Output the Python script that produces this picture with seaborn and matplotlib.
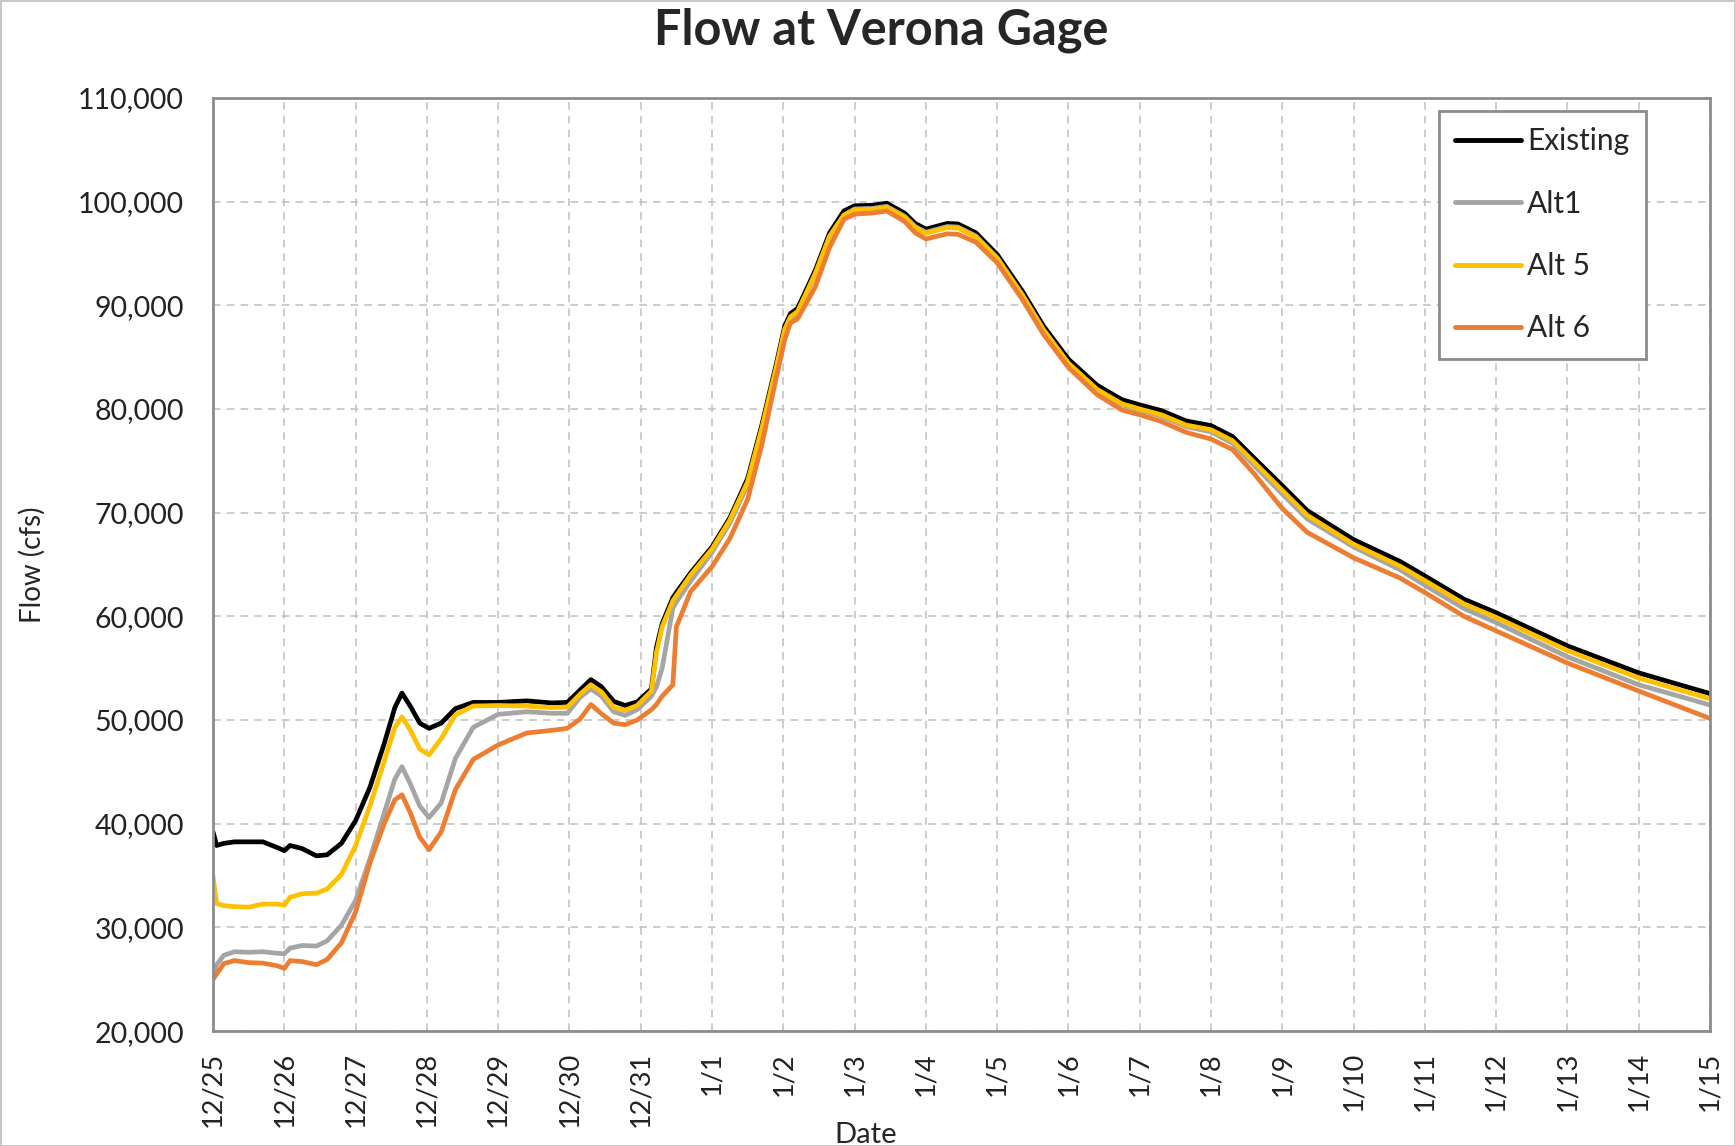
import pandas as pd
import numpy as np
import matplotlib
matplotlib.use("Agg")
import matplotlib.pyplot as plt
import seaborn as sns

# days after 12/25
days = [0, 0.05, 0.15, 0.3, 0.5, 0.7, 0.9, 1.0, 1.08, 1.25, 1.45, 1.6, 1.8, 2.0, 2.2, 2.4,
        2.55, 2.65, 2.77, 2.9, 3.03, 3.2, 3.4, 3.65, 4.0, 4.4, 4.75, 4.97, 5.15, 5.3, 5.45,
        5.62, 5.78, 5.95, 6.15, 6.22, 6.3, 6.45, 6.5, 6.7, 7.0, 7.25, 7.5, 7.7, 7.9, 8.02,
        8.1, 8.2, 8.45, 8.65, 8.85, 9.0, 9.25, 9.45, 9.7, 9.85, 10.0, 10.3, 10.45, 10.7,
        11.0, 11.35, 11.65, 12.0, 12.4, 12.75, 13.0, 13.3, 13.65, 14.0, 14.3, 14.6, 15.0,
        15.35, 16.0, 16.65, 17.0, 17.55, 18.0, 19.0, 20.0, 21.0]

existing = [39200, 37900, 38100, 38250, 38250, 38250, 37700, 37400, 37900, 37600, 36900, 37000,
            38100, 40300, 43500, 47700, 51200, 52600, 51300, 49700, 49200, 49700, 51100, 51700,
            51700, 51850, 51650, 51700, 52900, 53900, 53200, 51800, 51400, 51750, 53000, 57000,
            59300, 61800, 62300, 64200, 66700, 69500, 73300, 78500, 84300, 88000, 89200, 89700,
            93400, 97000, 99100, 99600, 99650, 99850, 98900, 97900, 97350, 97900, 97850, 97000,
            94900, 91400, 88000, 84800, 82300, 80900, 80400, 79850, 78850, 78400, 77350, 75300,
            72600, 70200, 67400, 65300, 63900, 61650, 60350, 57150, 54550, 52550]

alt1 = [25300, 26400, 27300, 27650, 27600, 27650, 27500, 27450, 28000, 28250, 28200, 28700,
        30200, 32600, 36600, 41000, 44300, 45500, 43800, 41700, 40600, 42000, 46300, 49300,
        50550, 50800, 50650, 50650, 52200, 53000, 52300, 50800, 50450, 51000, 52300, 53200,
        55000, 60800, 61400, 63400, 66200, 69000, 72700, 77900, 83700, 87400, 88700, 89200,
        93000, 96600, 98700, 99300, 99350, 99550, 98600, 97600, 97050, 97600, 97550, 96700,
        94600, 91050, 87650, 84400, 81850, 80400, 79900, 79300, 78300, 77800, 76700, 74600,
        71800, 69400, 66700, 64500, 63000, 60750, 59400, 56100, 53400, 51450]

alt5 = [34900, 32300, 32100, 32000, 31950, 32250, 32250, 32150, 32900, 33250, 33300, 33700,
        35100, 37900, 41700, 46000, 49300, 50300, 49000, 47200, 46650, 48200, 50500, 51350,
        51400, 51350, 51200, 51250, 52500, 53400, 52700, 51200, 50950, 51400, 52800, 56500,
        59000, 61500, 62000, 64000, 66500, 69300, 73000, 78200, 84000, 87700, 88900, 89400,
        93100, 96700, 98700, 99200, 99250, 99450, 98500, 97500, 96950, 97500, 97450, 96600,
        94500, 91000, 87600, 84400, 81900, 80500, 80000, 79450, 78450, 78000, 76950, 74900,
        72150, 69750, 66950, 64850, 63450, 61200, 59900, 56700, 54050, 52050]

alt6 = [25000, 25500, 26500, 26800, 26600, 26550, 26300, 26050, 26800, 26700, 26400, 26900,
        28500, 31500, 36200, 40000, 42300, 42800, 41000, 38700, 37500, 39200, 43300, 46200,
        47600, 48750, 49000, 49200, 50100, 51500, 50600, 49700, 49550, 50000, 51000, 51500,
        52300, 53400, 59000, 62400, 64800, 67500, 71300, 76600, 83000, 86700, 88300, 88700,
        91800, 95600, 98300, 98800, 98900, 99100, 98100, 97000, 96400, 96900, 96850, 96100,
        94100, 90600, 87200, 84000, 81400, 79900, 79450, 78800, 77750, 77100, 76100, 73800,
        70400, 68100, 65650, 63700, 62300, 60000, 58600, 55500, 52800, 50150]

date_labels = ["12/25", "12/26", "12/27", "12/28", "12/29", "12/30", "12/31",
               "1/1", "1/2", "1/3", "1/4", "1/5", "1/6", "1/7", "1/8", "1/9",
               "1/10", "1/11", "1/12", "1/13", "1/14", "1/15"]

series = {"Existing": existing, "Alt1": alt1, "Alt 5": alt5, "Alt 6": alt6}
colors = {"Existing": "#000000", "Alt1": "#A5A5A5", "Alt 5": "#FFC000", "Alt 6": "#ED7D31"}

df = pd.concat([pd.DataFrame({"Day": days, "Flow": v, "Scenario": k}) for k, v in series.items()])

sns.set_style("white")
plt.rcParams['font.family'] = ['Lato', 'DejaVu Sans']

fig = plt.figure(figsize=(17.35, 11.46), dpi=100)
fig.patch.set_edgecolor("#C8C8C8")
fig.patch.set_linewidth(2)
ax = fig.add_axes([0.1228, 0.1003, 0.8628, 0.8142])

sns.lineplot(data=df, x="Day", y="Flow", hue="Scenario", palette=colors,
             estimator=None, sort=False, linewidth=3.4, ax=ax)

ax.set_xlim(0, 21)
ax.set_ylim(20000, 110000)
ax.set_xticks(range(len(date_labels)))
ax.set_xticklabels(date_labels, rotation=90, fontsize=19.5)
ax.set_yticks(range(20000, 110001, 10000))
ax.set_yticklabels([f"{v:,}" for v in range(20000, 110001, 10000)], fontsize=20.5)
ax.grid(True, color="#BFBFBF", linestyle=(0, (5, 4)), linewidth=1.1)
for s in ax.spines.values():
    s.set_color("#8C8C8C")
    s.set_linewidth(2)
ax.tick_params(axis="both", direction="out", length=8, width=1.5, color="#8C8C8C",
               labelcolor="#222222")
ax.tick_params(axis="y", pad=13)
ax.tick_params(axis="x", pad=7)

ax.set_xlabel("Date", fontsize=21)
ax.xaxis.set_label_coords(0.4357, -0.097)
ax.set_ylabel("Flow (cfs)", fontsize=20)
ax.yaxis.set_label_coords(-0.112, 0.5)
fig.text(0.508, 0.974, "Flow at Verona Gage", fontsize=35, fontweight="bold",
         ha="center", va="center")

leg = ax.legend(loc="upper right", bbox_to_anchor=(0.957, 0.986), borderaxespad=0,
                fontsize=21.5, handlelength=2.2, handletextpad=0.2, labelspacing=1.15,
                borderpad=0.55, fancybox=False, framealpha=1)
leg.get_frame().set_edgecolor("#8C8C8C")
leg.get_frame().set_linewidth(2)
for line in leg.get_lines():
    line.set_linewidth(3.5)

fig.savefig("out.png", dpi=100)
